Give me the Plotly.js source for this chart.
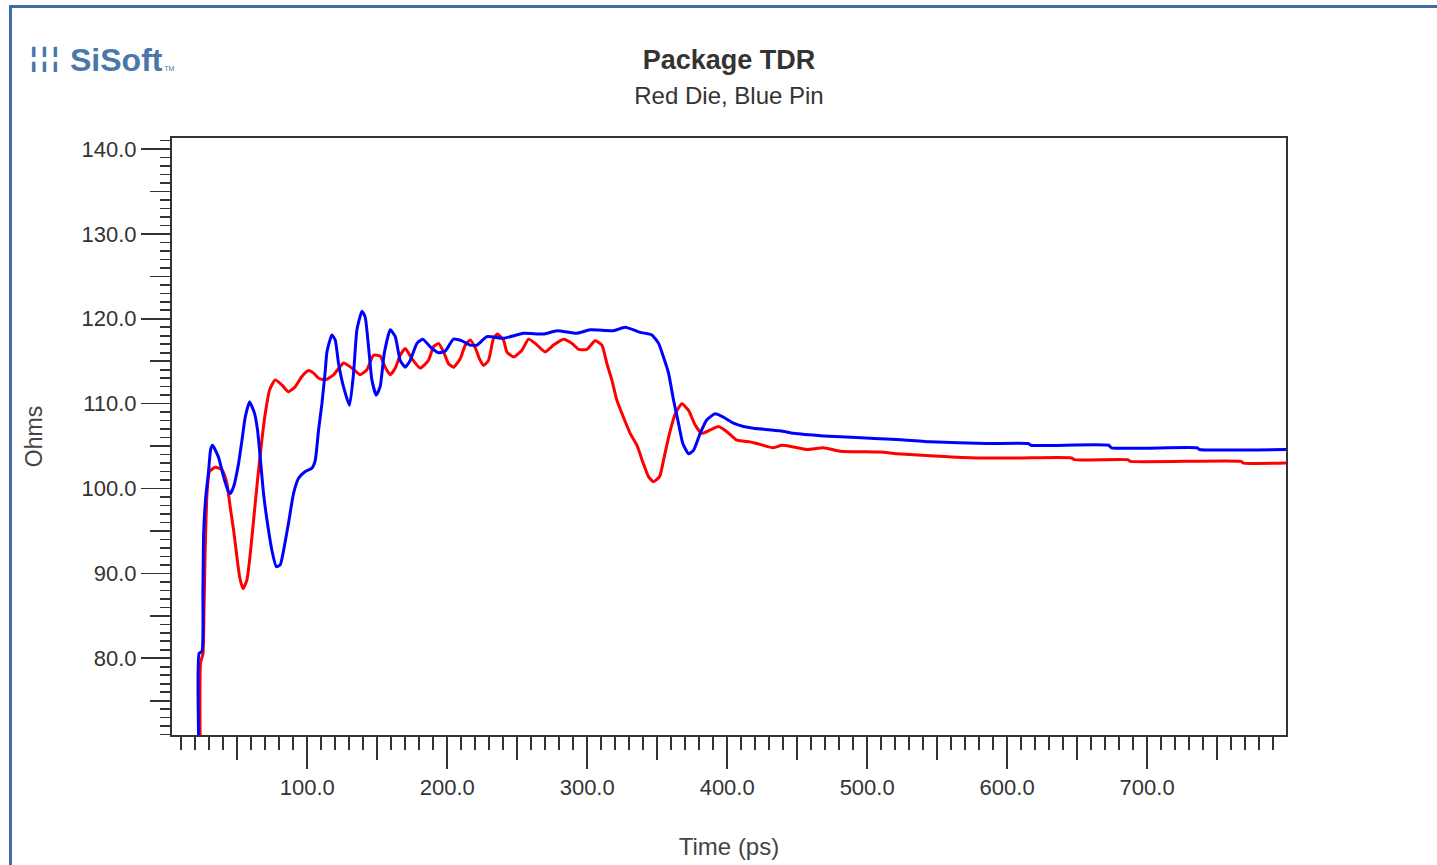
<!DOCTYPE html>
<html>
<head>
<meta charset="utf-8">
<script src="https://cdn.plot.ly/plotly-3.0.1.min.js"></script>
<style>
  html, body { margin: 0; padding: 0; background: #ffffff; }
  #chart { position: absolute; left: 0; top: 0; width: 1437px; height: 865px; }
  #frame { position: absolute; left: 9px; top: 5px; width: 1428px; height: 860px;
           border-left: 3px solid #3d6da6; border-top: 3px solid #3d6da6;
           box-sizing: border-box; pointer-events: none; }
</style>
</head>
<body>
<div id="chart"></div>
<div id="frame"></div>
<script>
// ---------------- data ----------------
const chartTitle = "Package TDR";
const chartSubtitle = "Red Die, Blue Pin";
const xAxisTitle = "Time (ps)";
const yAxisTitle = "Ohms";

const xTickVals = [100, 200, 300, 400, 500, 600, 700];
const xTickText = ["100.0", "200.0", "300.0", "400.0", "500.0", "600.0", "700.0"];
const yTickVals = [80, 90, 100, 110, 120, 130, 140];
const yTickText = ["80.0", "90.0", "100.0", "110.0", "120.0", "130.0", "140.0"];

// Red trace: Die
const dieTime = [23.5, 23.8, 25.5, 26.3, 27.1, 28.4, 30.2, 34.3, 39.1, 42.6, 45, 47.4, 49.8, 51.7, 54.1, 56.9,
  59.3, 61.7, 64.5, 67.6, 70, 73.1, 77.1, 81.9, 86.6, 91.4, 96.2, 100.9, 104.5, 108.1, 112.9, 118.8, 126,
  131.9, 137.9, 142.6, 147.4, 152.1, 155.7, 159.3, 162.9, 166.4, 170, 174.8, 180.7, 186.6, 190.2, 193.8,
  197.4, 201, 204.5, 209.3, 212.9, 216.4, 220, 223, 225.9, 229.5, 233.1, 235.9, 240.2, 242.6, 247.4, 253.4,
  258.1, 262.9, 270, 275.9, 283.1, 289.1, 293.8, 299.8, 305.7, 310.5, 314.1, 317.6, 321.2, 325.9, 330.7,
  335.5, 340.2, 343.8, 347.4, 351.7, 355, 358.8, 362.9, 367.6, 372.4, 377.1, 381.9, 387.9, 393.8, 399.8,
  406.9, 416.4, 421.2, 433.1, 439.1, 447.4, 456.9, 468.8, 480.7, 509.3, 521.2, 551, 578.4, 609.3, 646, 648,
  686, 688, 767, 769, 799.2];
const dieOhms = [70, 79.5, 80.5, 86, 92.7, 99.4, 102, 102.5, 102.2, 100.6, 97.8, 95.1, 91.9, 89.6, 88.2, 89.2,
  92.3, 96.3, 101, 105.7, 108.8, 111.6, 112.8, 112.2, 111.4, 112, 113.2, 113.9, 113.6, 113, 112.8, 113.4, 114.8,
  114.2, 113.4, 114, 115.7, 115.6, 114.3, 113.4, 114.2, 115.7, 116.5, 115.3, 114.2, 115.1, 116.7, 117.1,
  116.1, 114.7, 114.3, 115.3, 116.9, 117.5, 116.6, 115.3, 114.5, 115.1, 117.7, 118.2, 117.5, 116.1, 115.5, 116.3,
  117.6, 117.1, 116.1, 116.9, 117.6, 117.1, 116.4, 116.4, 117.4, 116.9, 114.7, 112.8, 110.4, 108.4, 106.5,
  105.1, 102.9, 101.4, 100.8, 101.4, 103.7, 106.5, 108.8, 110, 109.2, 107.5, 106.5, 106.9, 107.3, 106.7,
  105.7, 105.5, 105.3, 104.8, 105.1, 104.9, 104.6, 104.8, 104.4, 104.3, 104.1, 103.8, 103.6, 103.6, 103.6, 103.4,
  103.4, 103.2, 103.2, 103.0, 103.0];

// Blue trace: Pin
const pinTime = [22.5, 22.8, 24.8, 25.5, 26, 27.5, 29.5, 31, 32.4, 36.6, 40.2, 43.8, 45, 47.4, 50.9, 53.4, 55.7,
  58.8, 62.1, 64.5, 66.4, 68.8, 71.6, 74.8, 77.9, 80.7, 83.1, 86.6, 90.2, 93.8, 98.6, 103.3, 105.7, 108.1,
  110.5, 112.9, 114.1, 117.6, 120, 122.4, 125.9, 130.2, 133.1, 135.5, 139.1, 141.4, 143.8, 146.2, 149.3, 152.1,
  155, 159.3, 162.9, 166.4, 170, 173.6, 178.4, 182.6, 187.9, 193.8, 198.6, 204.5, 210.5, 216.4, 221.2, 228.4,
  240.2, 254.5, 268.8, 278.4, 292.6, 302.1, 318.8, 327.1, 337.9, 346.2, 351, 354.5, 358.1, 361.7, 365.2, 368.3,
  372.4, 376, 380.7, 385.5, 391.4, 397.4, 404.5, 411.6, 418.8, 437.9, 447.4, 468.8, 492.6, 517.6, 545, 585.5,
  615, 617, 672.5, 674.5, 735.5, 737.5, 799.2];
const pinOhms = [70, 80.6, 80.8, 88, 94.7, 99, 102, 104.6, 105.1, 103.7, 101.4, 99.6, 99.4, 100.2, 102.9, 105.7, 108.4,
  110.2, 109, 106.9, 103.7, 99.4, 95.9, 92.7, 90.8, 91, 92.7, 95.9, 99.4, 101.2, 102, 102.4, 103.3, 106.9,
  110, 113.9, 116.1, 118.1, 117.5, 114.7, 112, 109.8, 113.6, 118.7, 120.9, 120.2, 116.7, 112.8, 111, 112,
  115.9, 118.7, 117.9, 115.1, 114.3, 115.1, 117.1, 117.6, 116.7, 116, 116.2, 117.6, 117.4, 116.9, 116.9, 117.9,
  117.7, 118.3, 118.2, 118.6, 118.3, 118.7, 118.6, 119, 118.4, 118.1, 117.1, 115.5, 113.6, 110.4, 107.7, 105.3,
  104.1, 104.5, 106.5, 108.1, 108.8, 108.4, 107.7, 107.3, 107.1, 106.8, 106.5, 106.2, 106, 105.8, 105.5, 105.3,
  105.3, 105.1, 105.1, 104.8, 104.8, 104.6, 104.6];

// ---------------- layout ----------------
const W = 1437, H = 865;
const M = { l: 172, r: 151, t: 138, b: 130 };
const xRange = [3.4, 799.2];
const yRange = [70.96, 141.3];
const FONT = "Liberation Sans, Arial, sans-serif";
const INK = "#333333";
const pxX = p => (p - M.l) / (W - M.l - M.r);
const pxY = p => (H - M.b - p) / (H - M.t - M.b);

const traces = [
  { type: "scatter", mode: "lines", name: "Die", x: dieTime, y: dieOhms,
    line: { color: "#ff0000", width: 3, shape: "spline", smoothing: 0.5 }, hoverinfo: "skip" },
  { type: "scatter", mode: "lines", name: "Pin", x: pinTime, y: pinOhms,
    line: { color: "#0000ff", width: 3, shape: "spline", smoothing: 0.5 }, hoverinfo: "skip" },
  { type: "scatter", mode: "lines", x: [], y: [], xaxis: "x2", yaxis: "y2", hoverinfo: "skip", showlegend: false }
];

const tickCommon = { ticks: "outside", tickcolor: INK, tickwidth: 1.6, showgrid: false, zeroline: false };

const layout = {
  width: W, height: H,
  margin: M,
  paper_bgcolor: "rgba(0,0,0,0)",
  plot_bgcolor: "#ffffff",
  showlegend: false,
  hovermode: false,
  font: { family: FONT, color: INK },
  title: {
    text: "<b>" + chartTitle + "</b><br><span style=\"font-size:24px\">" + chartSubtitle + "</span>",
    font: { family: FONT, size: 27, color: INK },
    x: 0.5, xref: "paper", xanchor: "center",
    y: 1 - 69 / H, yref: "container", yanchor: "top"
  },
  xaxis: Object.assign({}, tickCommon, {
    range: xRange, showline: true, mirror: true, linecolor: INK, linewidth: 2,
    tick0: 0, dtick: 50, ticklen: 23, showticklabels: false,
    minor: { tick0: 0, dtick: 10, ticks: "outside", ticklen: 13, tickwidth: 1.6, tickcolor: INK, showgrid: false }
  }),
  yaxis: Object.assign({}, tickCommon, {
    range: yRange, showline: true, mirror: true, linecolor: INK, linewidth: 2,
    tick0: 0, dtick: 5, ticklen: 20, showticklabels: false,
    minor: { tick0: 0, dtick: 1, ticks: "outside", ticklen: 10, tickwidth: 1.6, tickcolor: INK, showgrid: false }
  }),
  xaxis2: Object.assign({}, tickCommon, {
    overlaying: "x", anchor: "y2", side: "bottom", range: xRange, showline: false,
    tickmode: "array", tickvals: xTickVals, ticktext: xTickText, ticklen: 33,
    tickfont: { family: FONT, size: 22, color: INK },
    title: { text: xAxisTitle, font: { family: FONT, size: 24, color: "#444" }, standoff: 38 }
  }),
  yaxis2: Object.assign({}, tickCommon, {
    overlaying: "y", anchor: "x2", side: "left", range: yRange, showline: false,
    tickmode: "array", tickvals: yTickVals, ticktext: yTickText, ticklen: 30,
    tickfont: { family: FONT, size: 22, color: INK },
    title: { text: yAxisTitle, font: { family: FONT, size: 23, color: "#444" }, standoff: 32 }
  }),
  annotations: [
    { xref: "paper", yref: "paper", x: pxX(44), y: pxY(59), xanchor: "center", yanchor: "middle",
      text: "☷", textangle: 90, showarrow: false, font: { family: "DejaVu Sans", size: 34, color: "#4a77aa" } },
    { xref: "paper", yref: "paper", x: pxX(68), y: pxY(60), xanchor: "left", yanchor: "middle",
      text: "<b>SiSoft</b><span style=\"font-size:7px\"> TM</span>", showarrow: false,
      font: { family: "Liberation Sans Narrow, Liberation Sans, Arial", size: 32, color: "#4a77aa" } }
  ]
};

Plotly.newPlot("chart", traces, layout, { staticPlot: true, displayModeBar: false });
</script>
</body>
</html>
